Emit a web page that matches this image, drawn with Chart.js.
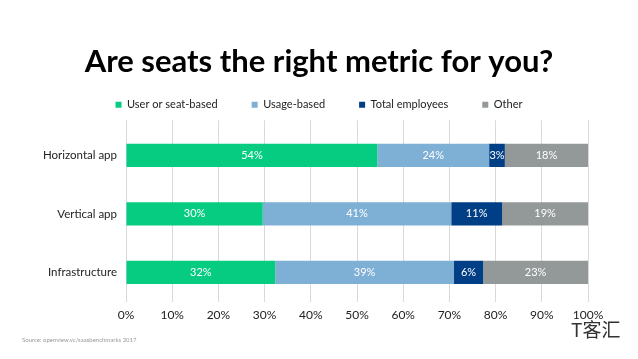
<!DOCTYPE html>
<html lang="en">
<head>
<meta charset="UTF-8">
<title>Are seats the right metric for you?</title>
<style>
  html, body { margin: 0; padding: 0; background: #fff; }
  .wrap { position: relative; width: 638px; height: 359px; overflow: hidden; }
  canvas { position: absolute; left: 0; top: 0; }
  .source {
    position: absolute; left: 22px; top: 336px;
    font: 6px Lato, sans-serif; color: #999;
  }
  .mark {
    position: absolute; left: 571px; top: 315px;
    font: 19px "Noto Sans CJK SC", sans-serif; color: #333;
  }
</style>
</head>
<body>
<div class="wrap">
  <canvas id="chart" width="638" height="359"></canvas>
  <div class="source">Source: openview.vc/saasbenchmarks 2017</div>
  <div class="mark">T客汇</div>
</div>
<script src="https://cdn.jsdelivr.net/npm/chart.js"></script>
<script>
// categories and series (percent of respondents)
const categories = ["Horizontal app", "Vertical app", "Infrastructure"];
const seriesNames = ["User or seat-based", "Usage-based", "Total employees", "Other"];
const seatBased = [54.4, 29.6, 32.3];
const usageBased = [24.2, 40.8, 38.7];
const totalEmployees = [3.4, 11.0, 6.3];
const other = [18.0, 18.6, 22.7];
const colors = ["#06cc82", "#7eafd4", "#003e85", "#939899"];
const xTicks = [0, 10, 20, 30, 40, 50, 60, 70, 80, 90, 100];

const FONT = "Lato, 'Open Sans', sans-serif";
const GRID = "#d9d9d9";

// draws the value labels inside each bar segment
const barLabels = {
  id: "barLabels",
  afterDatasetsDraw(chart) {
    const ctx = chart.ctx;
    ctx.save();
    ctx.font = "11px " + FONT;
    ctx.fillStyle = "#fff";
    ctx.textAlign = "center";
    ctx.textBaseline = "middle";
    chart.data.datasets.forEach((ds, i) => {
      chart.getDatasetMeta(i).data.forEach((bar, j) => {
        const x = (bar.x + bar.base) / 2;
        ctx.fillText(Math.round(ds.data[j]) + "%", x, bar.y);
      });
    });
    ctx.restore();
  }
};

// title + legend are centred on the slide, not on the plot
const centreBlocks = {
  id: "centreBlocks",
  afterLayout(chart) {
    [chart.titleBlock, chart.legend].forEach(b => { if (b) b.left = 50; });
  }
};

const series = [seatBased, usageBased, totalEmployees, other];
const setTicks = scale => { scale.ticks = xTicks.map(v => ({ value: v })); };

new Chart(document.getElementById("chart"), {
  type: "bar",
  data: {
    labels: categories,
    datasets: series.map((d, i) => ({
      label: seriesNames[i],
      data: d,
      backgroundColor: colors[i],
      borderWidth: 0,
      barPercentage: 0.8,
      categoryPercentage: 0.495
    }))
  },
  options: {
    indexAxis: "y",
    responsive: false,
    animation: false,
    layout: { padding: { left: 10, right: 50, top: 0, bottom: 31 } },
    plugins: {
      title: {
        display: true,
        text: "Are seats the right metric for you?",
        color: "#000",
        font: { family: FONT, size: 31, weight: "bold" },
        padding: { top: 43, bottom: -15 }
      },
      legend: {
        position: "top",
        labels: {
          color: "#222",
          font: { family: FONT, size: 11 },
          boxWidth: 6,
          boxHeight: 6,
          padding: 34
        }
      },
      tooltip: { enabled: false }
    },
    scales: {
      x: {
        stacked: true,
        min: 0,
        max: 100,
        afterBuildTicks: setTicks,
        ticks: {
          color: "#222",
          font: { family: FONT, size: 12 },
          callback: v => v + "%",
          padding: 6
        },
        grid: { color: GRID, drawTicks: false },
        border: { display: false }
      },
      // gridlines poke a little above the plot, as in the original slide
      xTop: {
        type: "linear",
        axis: "x",
        position: "top",
        min: 0,
        max: 100,
        afterBuildTicks: setTicks,
        ticks: { display: false },
        grid: { color: GRID, drawOnChartArea: false, drawTicks: true, tickLength: 6 },
        border: { display: false }
      },
      y: {
        stacked: true,
        afterFit(scale) { scale.width = 116; },
        ticks: {
          color: "#222",
          font: { family: FONT, size: 11.5 },
          padding: 9
        },
        grid: { display: false, drawTicks: false },
        border: { color: GRID }
      }
    }
  },
  plugins: [barLabels, centreBlocks]
});
</script>
</body>
</html>
